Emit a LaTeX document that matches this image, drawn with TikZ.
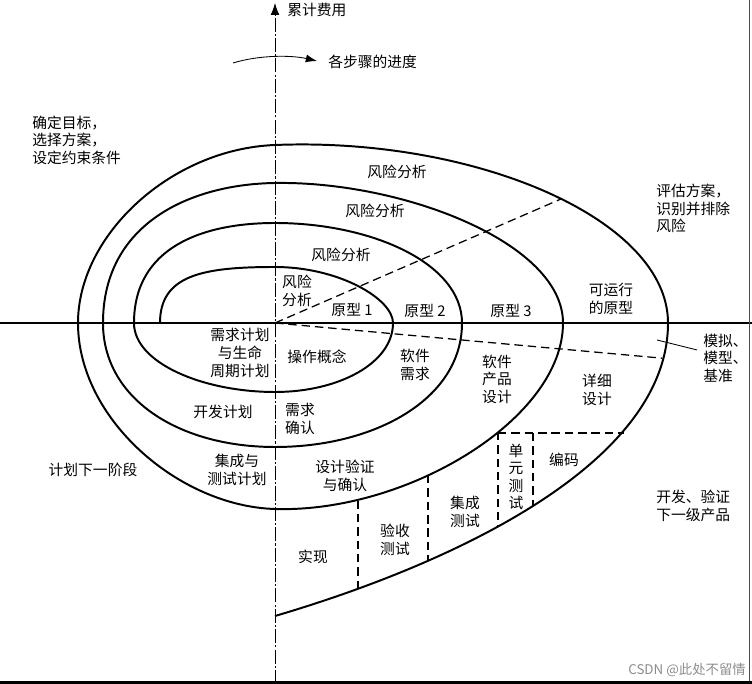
\documentclass[tikz,border=0pt]{standalone}
\usepackage{fontspec}
\usepackage{tikz}
\usetikzlibrary{calc,positioning,arrows.meta}
\newfontfamily\cjk{Noto Sans CJK SC}

\begin{document}
\begin{tikzpicture}[
		txt/.style={inner sep=0pt, align=center, font=\cjk\fontsize{10.5}{12.5}\selectfont},
		lefttxt/.style={txt, align=left, anchor=west},
		curve/.style={line width=1.4pt},
		cut/.style={line width=0.9pt, dash pattern=on 6pt off 3.5pt}]
	\useasboundingbox (-6.875,-9.025) rectangle (11.925,8.075);

	\draw[line width=1.2pt](-6.875, 0) to (11.925, 0);
	\draw[line width=0.6pt, dash pattern=on 10pt off 1.5pt on 1.5pt off 1.5pt, -{Latex[length=3mm,width=2.2mm]}](0, -9.025) to (0, 8.0);
		\node[txt, anchor=west](cost) at(0.3, 7.82){累计费用};

	\coordinate (arcL) at (-1.05, 6.5);
	\coordinate (arcR) at (1.05, 6.55);
	\draw[line width=0.6pt, -{Latex[length=2.8mm,width=2mm]}](arcL) .. controls (-0.4, 6.7) and (0.4, 6.7) .. (arcR);
		\node[txt, anchor=west](steps) at(1.325, 6.525){各步骤的进度};

	\draw[curve](-2.875, 0) .. controls (-2.875, 1.2) and (-1.8, 1.4) .. (0, 1.4)
		.. controls (1.6, 1.4) and (2.95, 0.6) .. (2.95, 0)
		.. controls (2.95, -1.0) and (1.6, -1.725) .. (0, -1.725)
		.. controls (-1.8, -1.725) and (-3.525, -1.0) .. (-3.525, 0)
		.. controls (-3.525, 1.9) and (-1.8, 2.5) .. (0, 2.5)
		.. controls (2.4, 2.5) and (4.675, 1.5) .. (4.675, 0)
		.. controls (4.675, -1.9) and (2.5, -3.1) .. (0, -3.1)
		.. controls (-2.4, -3.1) and (-4.3, -1.9) .. (-4.3, 0)
		.. controls (-4.3, 2.5) and (-2.1, 3.47) .. (0, 3.5)
		.. controls (3.2, 3.55) and (7.2, 2.0) .. (7.2, 0)
		.. controls (7.2, -2.4) and (3.3, -4.75) .. (0, -4.65)
		.. controls (-2.4, -4.58) and (-4.925, -2.4) .. (-4.925, 0)
		.. controls (-4.925, 2.2) and (-2.6, 4.35) .. (0, 4.45)
		.. controls (5, 4.65) and (9.825, 2.6) .. (9.825, 0)
		.. controls (9.825, -3.5) and (4.5, -6.0) .. (0, -7.325);

	\draw[cut](0, 0) to (7.15, 3.1);
	\draw[cut](0, 0) to (9.68, -0.88);

	\draw[cut](2.075, -4.44) to (2.075, -6.65);
	\draw[cut](3.825, -3.8) to (3.825, -5.93);
	\draw[cut](5.575, -2.72) to (5.575, -5.1);
	\draw[cut](6.45, -2.75) to (6.45, -4.57);
	\draw[cut](5.575, -2.75) to (8.72, -2.75);

	\node[lefttxt](goal) at(-6.075, 4.575){确定目标，\\选择方案，\\设定约束条件};
	\node[lefttxt](eval) at(9.525, 2.86){评估方案，\\识别并排除\\风险};

	\node[txt](risk4) at(3.05, 3.775){风险分析};
	\node[txt](risk3) at(2.5, 2.8){风险分析};
	\node[txt](risk2) at(1.65, 1.7){风险分析};
	\node[txt](risk1) at(0.55, 0.8){风险\\分析};

	\node[txt](proto1) at(1.925, 0.325){原型 1};
	\node[txt](proto2) at(3.75, 0.3){原型 2};
	\node[txt](proto3) at(5.9, 0.3){原型 3};
	\node[txt](proto4) at(8.4, 0.6){可运行\\的原型};

	\node[txt](lifeplan) at(-0.875, -0.75){需求计划\\与生命\\周期计划};
	\node[txt](concept) at(1.05, -0.85){操作概念};
	\node[txt](swreq) at(3.5, -1.05){软件\\需求};
	\node[txt](prodd) at(5.55, -1.4){软件\\产品\\设计};
	\node[txt](detail) at(8.05, -1.675){详细\\设计};
	\node[lefttxt](sim) at(10.7, -0.875){模拟、\\模型、\\基准};
		\coordinate (simpt) at (9.55, -0.425);
		\draw[line width=0.6pt](simpt) to ($(sim.west)+(-0.15, 0.2)$);

	\node[txt](devplan) at(-1.3, -2.225){开发计划};
	\node[txt](reqok) at(0.625, -2.4){需求\\确认};
	\node[txt](nextphase) at(-4.55, -3.675){计划下一阶段};
	\node[txt](itplan) at(-0.95, -3.675){集成与\\测试计划};
	\node[txt](dverify) at(1.75, -3.825){设计验证\\与确认};

	\node[txt](impl) at(0.95, -5.85){实现};
	\node[txt](accept) at(3.0, -5.425){验收\\测试};
	\node[txt](integ) at(4.75, -4.725){集成\\测试};
	\node[txt](unit) at(6.025, -3.85){单\\元\\测\\试};
	\node[txt](code) at(7.225, -3.425){编码};
	\node[lefttxt](nextprod) at(9.525, -4.575){开发、验证\\下一级产品};

	\node[txt, anchor=east, text=black!45, font=\cjk\fontsize{9.5}{11}\selectfont](mark) at(11.775, -8.675){CSDN @此处不留情};

	\draw[line width=1.2pt, black!70](11.86, 8.075) to (11.86, -9.025);
	\draw[line width=2.2pt](-6.875, -8.99) to (11.925, -8.99);
\end{tikzpicture}
\end{document}
